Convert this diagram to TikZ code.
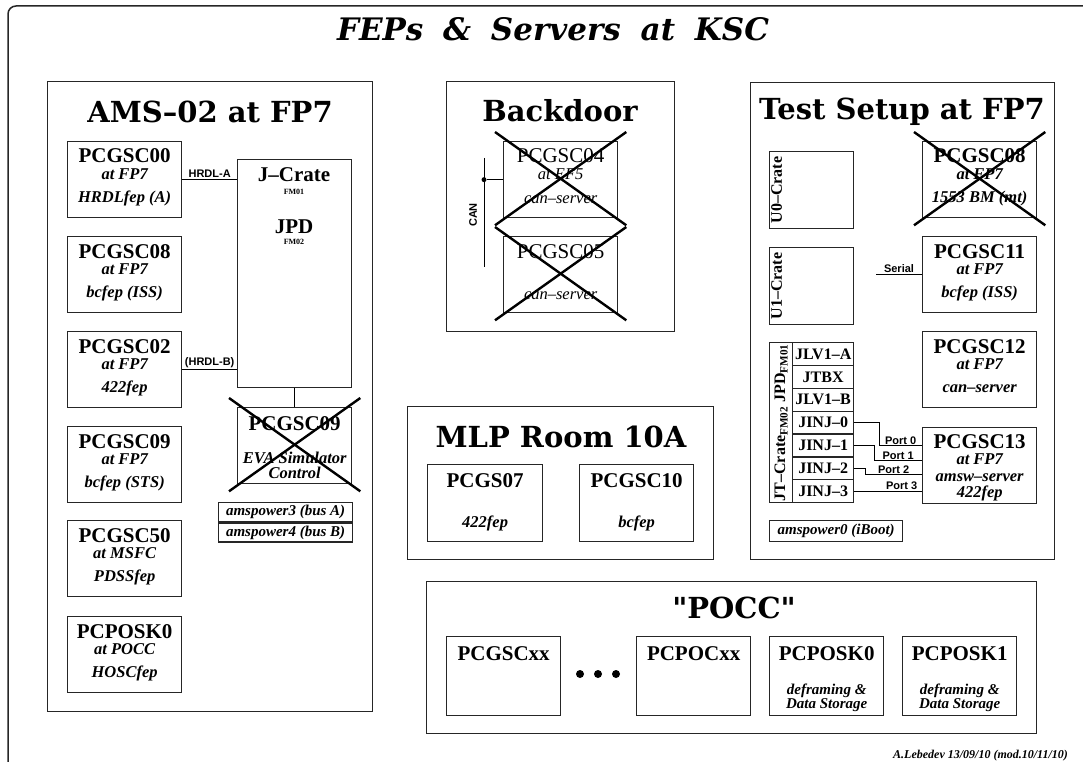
\documentclass[tikz,border=0pt]{standalone}
\usepackage{fontspec}
\setmainfont{Liberation Serif}
\newfontfamily\clarfont{DejaVu Serif}
\newfontfamily\helvfont{Liberation Sans}
\usetikzlibrary{positioning,calc}

\begin{document}
\begin{tikzpicture}[x=1pt,y=-1pt]

	\tikzset{
		area/.style={draw=black!85, line width=1.3pt, inner sep=0pt},
		fepbox/.style={draw=black!85, line width=1.3pt, inner sep=0pt,
			minimum width=114pt, minimum height=76pt, anchor=north west},
		hdr/.style={font=\clarfont\bfseries\fontsize{29}{29}\selectfont, inner sep=0pt, anchor=base},
		nm/.style={font=\bfseries\fontsize{21}{21}\selectfont, inner sep=0pt, anchor=base},
		sub/.style={font=\bfseries\itshape\fontsize{16.5}{16.5}\selectfont, inner sep=0pt, anchor=base},
		small/.style={font=\bfseries\itshape\fontsize{15}{15}\selectfont},
		fm/.style={font=\bfseries\fontsize{8}{8}\selectfont, inner sep=0pt, anchor=base},
		tag/.style={font=\helvfont\bfseries\fontsize{11}{11}\selectfont, inner sep=1.5pt},
		wire/.style={black, line width=1pt},
		xout/.style={black, line width=2.4pt}
	}

	\useasboundingbox (0,0) rectangle (1083,762);

	% ===== frame + title =====
	\draw[black!85, line width=1.5pt, rounded corners=8pt] (8,6) rectangle (1100,790);
	\node[font=\clarfont\bfseries\itshape\fontsize{31}{31}\selectfont, inner sep=0pt, anchor=base]
	(title) at (553,41) {FEPs\hspace{9pt} \&\hspace{9pt} Servers\hspace{9pt} at\hspace{9pt} KSC};

	% ===== AMS-02 at FP7 =====
	\node[area, minimum width=325pt, minimum height=630pt, anchor=north west] (ams) at (47,81) {};
	\node[hdr] (amst) at (210,123) {AMS–02 at FP7};

	% ===== plain FEP boxes (name / site / role) =====
	\foreach \n/\px/\py/\ta/\tb/\tc in {
		c00/67/141/PCGSC00/at FP7/HRDLfep (A),
		c08/67/236/PCGSC08/at FP7/bcfep (ISS),
		c02/67/331/PCGSC02/at FP7/422fep,
		c09/67/426/PCGSC09/at FP7/bcfep (STS),
		c50/67/520/PCGSC50/at MSFC/PDSSfep,
		k0/67/616/PCPOSK0/at POCC/HOSCfep,
		c08t/922/141/PCGSC08/at FP7/1553 BM (mt),
		c11/922/236/PCGSC11/at FP7/bcfep (ISS),
		c12/922/331/PCGSC12/at FP7/can–server}
	{
		\node[fepbox] (\n) at (\px,\py) {};
		\node[nm] (\n-a) at ([yshift=-22pt]\n.north) {\ta};
		\node[sub] (\n-b) at ([yshift=-38pt]\n.north) {\tb};
		\node[sub] (\n-c) at ([yshift=-61pt]\n.north) {\tc};
	}

	% J-Crate / JPD
	\node[area, minimum width=114pt, minimum height=228pt, anchor=north west] (jcr) at (237,159) {};
	\node[nm] (jcr-a) at (294,182) {J–Crate};
	\node[fm] (jcr-b) at (294,194) {FM01};
	\node[nm] (jcr-c) at (294,233) {JPD};
	\node[fm] (jcr-d) at (294,244) {FM02};

	\draw[wire] (c00.east) -- (c00.east -| jcr.west) node[tag, midway, above] {HRDL-A};
	\draw[wire] (c02.east) -- (c02.east -| jcr.west) node[tag, midway, above] {(HRDL-B)};

	% EVA simulator (crossed)
	\node[fepbox] (eva) at (237,407) {};
	\node[nm] (eva-a) at ([yshift=-23pt]eva.north) {PCGSC09};
	\node[sub] (eva-b) at ([yshift=-56pt]eva.north) {EVA Simulator};
	\node[sub] (eva-c) at ([yshift=-71pt]eva.north) {Control};
	\draw[wire] (jcr.south) -- (eva.north);

	\node[area, small, minimum width=134pt, minimum height=19pt, anchor=north west] (pw3) at (218,502) {amspower3 (bus A)};
	\node[area, small, minimum width=134pt, minimum height=19pt, anchor=north] (pw4) at (pw3.south) {amspower4 (bus B)};

	% ===== Backdoor =====
	\node[area, minimum width=228pt, minimum height=250pt, anchor=north west] (bkd) at (446,81) {};
	\node[hdr] (bkdt) at (560,122) {Backdoor};

	\node[fepbox] (b04) at (503,141) {};
	\node[nm, font=\fontsize{21}{21}\selectfont] (b04-a) at ([yshift=-22pt]b04.north) {PCGSC04};
	\node[sub, font=\itshape\fontsize{16.5}{16.5}\selectfont] (b04-b) at ([yshift=-38pt]b04.north) {at EF5};
	\node[sub, font=\itshape\fontsize{16.5}{16.5}\selectfont] (b04-c) at ([yshift=-63pt]b04.north) {can–server};
	\node[fepbox] (b05) at (503,236) {};
	\node[nm, font=\fontsize{21}{21}\selectfont] (b05-a) at ([yshift=-22pt]b05.north) {PCGSC05};
	\node[sub, font=\itshape\fontsize{16.5}{16.5}\selectfont] (b05-c) at ([yshift=-63pt]b05.north) {can–server};

	\coordinate (cantop) at (484,158);
	\coordinate (canbot) at (484,267);
	\draw[wire] (cantop) -- (canbot);
	\node[circle, fill, inner sep=0pt, minimum size=5pt] (candot) at (cantop |- b04.west) {};
	\draw[wire] (candot) -- (b04.west);
	\node[tag, rotate=90] (cantag) at (473,215) {CAN};

	% ===== Test Setup at FP7 =====
	\node[area, minimum width=304pt, minimum height=477pt, anchor=north west] (tst) at (750,82) {};
	\node[hdr] (tstt) at (902,120) {Test Setup at FP7};

	\node[area, minimum width=84pt, minimum height=77pt, anchor=north west] (u0) at (769,151) {};
	\node[rotate=90, anchor=north, font=\bfseries\fontsize{16}{16}\selectfont, inner sep=2pt] (u0-t) at (u0.west) {U0–Crate};
	\node[area, minimum width=84pt, minimum height=77pt, anchor=north west] (u1) at (769,247) {};
	\node[rotate=90, anchor=north, font=\bfseries\fontsize{16}{16}\selectfont, inner sep=2pt] (u1-t) at (u1.west) {U1–Crate};

	\coordinate (serend) at ([xshift=-46pt]c11.west);
	\draw[wire] (serend) -- (c11.west) node[tag, midway, above] {Serial};

	% JT-Crate
	\node[area, minimum width=23pt, minimum height=160pt, anchor=north west] (jtl) at (769,342) {};
	\node[rotate=90, font=\bfseries\fontsize{16}{16}\selectfont, inner sep=0pt] (jtl-t) at (jtl.center)
	{JT–Crate\textsubscript{FM02} JPD\textsubscript{FM01}};
	\foreach \i/\t in {1/JLV1–A, 2/JTBX, 3/JLV1–B, 4/JINJ–0, 5/JINJ–1, 6/JINJ–2, 7/JINJ–3}
	\node[area, minimum width=61pt, minimum height=22.86pt, anchor=north west,
	font=\bfseries\fontsize{16}{16}\selectfont] (jr\i) at (792,{342+22.86*(\i-1)}) {\t};

	\node[fepbox] (c13) at (922,427) {};
	\node[nm] (c13-a) at ([yshift=-21pt]c13.north) {PCGSC13};
	\node[sub] (c13-b) at ([yshift=-37pt]c13.north) {at FP7};
	\node[sub] (c13-c) at ([yshift=-54pt]c13.north) {amsw–server};
	\node[sub] (c13-d) at ([yshift=-70pt]c13.north) {422fep};

	\draw[wire] (jr4.east) -- ++(25pt,0) |- ([yshift=20pt]c13.west)
	node[tag, pos=0.75, above, inner sep=1pt] {Port 0};
	\draw[wire] (jr5.east) -- ++(20pt,0) |- ([yshift=5pt]c13.west)
	node[tag, pos=0.75, above, inner sep=1pt] {Port 1};
	\draw[wire] (jr6.east) -- ++(11pt,0) |- ([yshift=-9pt]c13.west)
	node[tag, pos=0.75, above, inner sep=1pt] {Port 2};
	\draw[wire] (jr7.east) -- (jr7.east -| c13.west)
	node[tag, pos=0.7, above, inner sep=1pt] {Port 3};

	\node[area, small, minimum width=133pt, minimum height=21pt, anchor=north west] (pw0) at (769,520) {amspower0 (iBoot)};

	% ===== MLP Room 10A =====
	\node[area, minimum width=306pt, minimum height=153pt, anchor=north west] (mlp) at (407,406) {};
	\node[hdr] (mlpt) at (561,447) {MLP Room 10A};
	\node[fepbox, minimum width=115pt, minimum height=77pt] (m07) at (427,464) {};
	\node[nm] (m07-a) at ([yshift=-23pt]m07.north) {PCGS07};
	\node[sub] (m07-c) at ([yshift=-63pt]m07.north) {422fep};
	\node[fepbox, minimum height=77pt] (m10) at (579,464) {};
	\node[nm] (m10-a) at ([yshift=-23pt]m10.north) {PCGSC10};
	\node[sub] (m10-c) at ([yshift=-63pt]m10.north) {bcfep};

	% ===== "POCC" =====
	\node[area, minimum width=610pt, minimum height=152pt, anchor=north west] (pocc) at (426,581) {};
	\node[hdr] (pocct) at (734,618) {"POCC"};
	\foreach \n/\px/\ta in {px0/446/PCGSCxx, px1/636/PCPOCxx, px2/769/PCPOSK0, px3/902/PCPOSK1}
	{
		\node[fepbox, minimum height=79pt] (\n) at (\px,636) {};
		\node[nm] (\n-a) at ([yshift=-24pt]\n.north) {\ta};
	}
	\foreach \n in {px2,px3}
	{
		\node[sub, font=\bfseries\itshape\fontsize{15}{15}\selectfont] (\n-b) at ([yshift=-58pt]\n.north) {deframing \&};
		\node[sub, font=\bfseries\itshape\fontsize{15}{15}\selectfont] (\n-c) at ([yshift=-72pt]\n.north) {Data Storage};
	}
	\foreach \k in {0,1,2}
	\node[circle, fill, inner sep=0pt, minimum size=8pt] (dot\k) at ({580+18*\k},674) {};

	% ===== crossed-out machines =====
	\foreach \b in {b04,b05,c08t,eva}
	{
		\draw[xout] ([xshift=-8pt,yshift=9pt]\b.north west) -- ([xshift=8pt,yshift=-7pt]\b.south east);
		\draw[xout] ([xshift=-8pt,yshift=-7pt]\b.south west) -- ([xshift=8pt,yshift=9pt]\b.north east);
	}

	\node[font=\bfseries\itshape\fontsize{12}{12}\selectfont, anchor=base west, inner sep=0pt]
	(credit) at (893,758) {A.Lebedev 13/09/10 (mod.10/11/10)};

\end{tikzpicture}
\end{document}
